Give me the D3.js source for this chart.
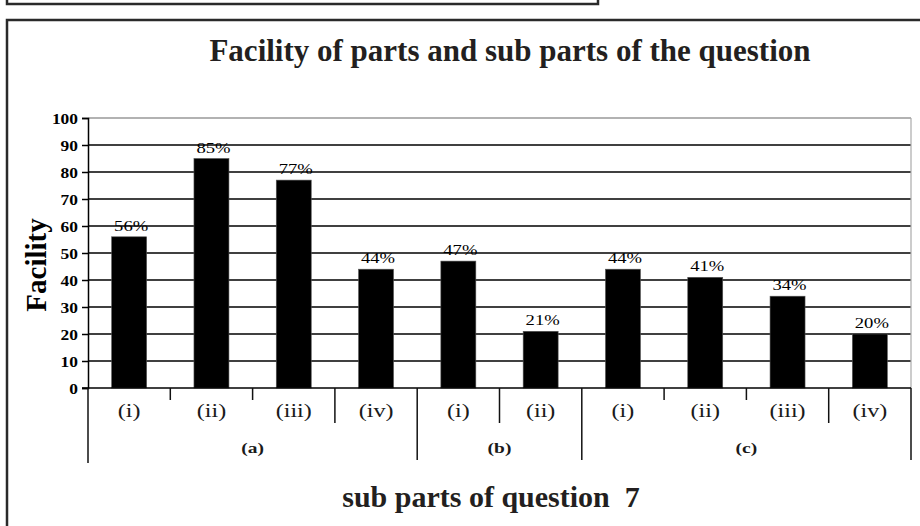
<!DOCTYPE html>
<html>
<head>
<meta charset="utf-8">
<script src="https://cdn.jsdelivr.net/npm/d3@7"></script>
<style>
  body { margin: 0; background: #fff; }
  svg { display: block; }
</style>
</head>
<body>
<script>
// Facility (%) for each sub part of question 7
const subLabels = ["(i)", "(ii)", "(iii)", "(iv)", "(i)", "(ii)", "(i)", "(ii)", "(iii)", "(iv)"];
const partOf    = ["(a)", "(a)", "(a)", "(a)", "(b)", "(b)", "(c)", "(c)", "(c)", "(c)"];
const parts     = ["(a)", "(b)", "(c)"];
const facility  = [56, 85, 77, 44, 47, 21, 44, 41, 34, 20];
const yTicks    = [0, 10, 20, 30, 40, 50, 60, 70, 80, 90, 100];

const W = 920, H = 526;
const svg = d3.select("body").append("svg").attr("width", W).attr("height", H);

const serif = "'Liberation Serif', 'Times New Roman', serif";
const stretch = 1.3;   // in-chart lettering is set wide

// page frames
svg.append("rect").attr("x", 7).attr("y", -20).attr("width", 591).attr("height", 24)
  .attr("fill", "none").attr("stroke", "#2a2a2a").attr("stroke-width", 2.5);
svg.append("path").attr("d", `M7,${H + 5} V20 H${W + 5}`)
  .attr("fill", "none").attr("stroke", "#2a2a2a").attr("stroke-width", 2.5);

// titles
svg.append("text").attr("x", 510).attr("y", 61).attr("text-anchor", "middle")
  .attr("font-family", serif).attr("font-weight", "bold").attr("font-size", 31)
  .attr("fill", "#231f20").text("Facility of parts and sub parts of the question");

svg.append("text").attr("x", 491).attr("y", 507).attr("text-anchor", "middle")
  .style("white-space", "pre")
  .attr("font-family", serif).attr("font-weight", "bold").attr("font-size", 30)
  .attr("fill", "#231f20").text("sub parts of question  7");

svg.append("text").attr("transform", "translate(46,265) rotate(-90)").attr("text-anchor", "middle")
  .attr("font-family", serif).attr("font-weight", "bold").attr("font-size", 29)
  .attr("fill", "#000").text("Facility");

// plot area and scales
const plot = { left: 88, right: 911, top: 118, bottom: 388 };
const idx = d3.range(facility.length);
const x = d3.scaleBand().domain(idx).range([plot.left, plot.right])
  .paddingInner(0.575).paddingOuter(0.2875);
const step = x.step();
const y = d3.scaleLinear().domain([0, 100]).range([plot.bottom, plot.top]);

// horizontal gridlines
svg.append("g").selectAll("line").data(yTicks.filter(t => t > 0)).join("line")
  .attr("x1", plot.left).attr("x2", plot.right)
  .attr("y1", d => y(d)).attr("y2", d => y(d))
  .attr("stroke", d => d === 100 ? "#999" : "#000").attr("stroke-width", 1.5);

// right border of the plot
svg.append("line").attr("x1", plot.right).attr("x2", plot.right)
  .attr("y1", plot.top).attr("y2", plot.bottom)
  .attr("stroke", "#aaa").attr("stroke-width", 1.2);

// y axis
const yAxis = d3.axisLeft(y).tickValues(yTicks).tickSize(6).tickFormat(d3.format("d"));
const gy = svg.append("g").attr("transform", `translate(${plot.left},0)`).call(yAxis);
gy.select(".domain").attr("stroke", "#000").attr("stroke-width", 1.5);
gy.selectAll(".tick line").attr("stroke", "#000").attr("stroke-width", 1.5);
gy.selectAll(".tick text").each(function () {
  d3.select(this).attr("x", null).attr("dy", null).attr("text-anchor", "end")
    .attr("transform", `translate(-10,5) scale(1.2,1)`)
    .attr("font-family", serif).attr("font-weight", "bold").attr("font-size", 14.5)
    .attr("fill", "#000");
});

// bars
svg.append("g").selectAll("rect").data(idx).join("rect")
  .attr("x", i => x(i)).attr("width", x.bandwidth())
  .attr("y", i => y(facility[i])).attr("height", i => y(0) - y(facility[i]))
  .attr("fill", "#000").attr("stroke", "#555").attr("stroke-width", 0.6);

// value labels
svg.append("g").selectAll("text").data(idx).join("text")
  .attr("transform", i => `translate(${x(i) + x.bandwidth() / 2 + 2},${y(facility[i]) - 6}) scale(1.2,1)`)
  .attr("text-anchor", "middle").attr("font-family", serif).attr("font-size", 15.5)
  .attr("fill", "#000").text(i => facility[i] + "%");

// x axis line
svg.append("line").attr("x1", plot.left - 6).attr("x2", plot.right)
  .attr("y1", plot.bottom).attr("y2", plot.bottom)
  .attr("stroke", "#000").attr("stroke-width", 1.5);

// dividers under the axis
const boundaries = d3.range(facility.length + 1);
svg.append("g").selectAll("line").data(boundaries).join("line")
  .attr("x1", b => plot.left + b * step).attr("x2", b => plot.left + b * step)
  .attr("y1", plot.bottom)
  .attr("y2", b => {
    if (b === 0) return plot.bottom + 75;
    if (b === facility.length || partOf[b] !== partOf[b - 1]) return plot.bottom + 72;
    const last = b + 1 === facility.length || partOf[b + 1] !== partOf[b];
    return last ? plot.bottom + 35 : plot.bottom + 12;
  })
  .attr("stroke", "#111").attr("stroke-width", 1.5);

// sub part labels
svg.append("g").selectAll("text").data(idx).join("text")
  .attr("transform", i => `translate(${x(i) + x.bandwidth() / 2},${plot.bottom + 29}) scale(${stretch},1)`)
  .attr("text-anchor", "middle").attr("font-family", serif).attr("font-size", 18.5)
  .attr("fill", "#1a1a1a").text(i => subLabels[i]);

// part labels, centred under each group
svg.append("g").selectAll("text").data(parts).join("text")
  .attr("transform", p => {
    const members = idx.filter(i => partOf[i] === p);
    const cx = plot.left + (d3.min(members) + d3.max(members) + 1) / 2 * step;
    return `translate(${cx},${plot.bottom + 65}) scale(${stretch},1)`;
  })
  .attr("text-anchor", "middle").attr("font-family", serif).attr("font-weight", "bold")
  .attr("font-size", 15).attr("fill", "#1a1a1a").text(p => p);
</script>
</body>
</html>
